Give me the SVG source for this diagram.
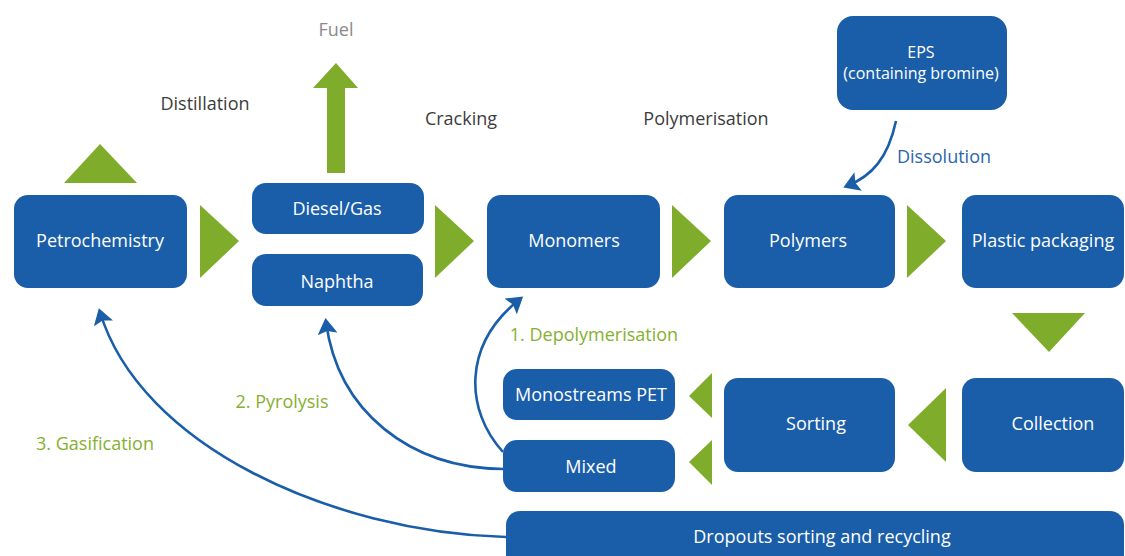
<svg xmlns="http://www.w3.org/2000/svg" width="1125" height="556" viewBox="0 0 1125 556">
<defs>
<style>
.box{fill:#1a5ea9;}
.bt{fill:#ffffff;font-family:"Open Sans","Liberation Sans",sans-serif;font-size:18px;text-anchor:middle;}
.tri{fill:#80ac2b;}
.lbl{fill:#3c3c3c;font-family:"Open Sans","Liberation Sans",sans-serif;font-size:18px;text-anchor:middle;}
.glbl{fill:#86b030;font-family:"Open Sans","Liberation Sans",sans-serif;font-size:18px;text-anchor:middle;}
.blbl{fill:#2a66ad;font-family:"Open Sans","Liberation Sans",sans-serif;font-size:18px;text-anchor:middle;}
.curve{fill:none;stroke:#1a5ea9;stroke-width:2.6;marker-end:url(#ah);}
</style>
<marker id="ah" markerUnits="userSpaceOnUse" markerWidth="16" markerHeight="20" refX="12" refY="10" orient="auto" viewBox="0 0 16 20">
<path d="M0,0 L16,10 L0,20 L3,10 z" fill="#1a5ea9"/>
</marker>
</defs>
<rect width="1125" height="556" fill="#ffffff"/>

<g id="connectors">
<polygon class="tri" points="64,183 137,183 100,144"/>
<polygon class="tri" points="200,205 239,241 200,278"/>
<polygon class="tri" points="313,88 358,88 336,63"/>
<rect class="tri" x="327" y="87" width="18" height="86"/>
<polygon class="tri" points="435,205 474,241 435,278"/>
<polygon class="tri" points="672,205 711,241 672,278"/>
<polygon class="tri" points="907,205 946,241 907,278"/>
<polygon class="tri" points="1012,313 1085,313 1049,352"/>
<polygon class="tri" points="946,388 946,462 908,425"/>
<polygon class="tri" points="712,373 712,418 689,396"/>
<polygon class="tri" points="712,440 712,485 689,462"/>
<path class="curve" d="M896,121 C888,158 872,176 847,186"/>
<path class="curve" d="M503,452 C465,410 462,345 520,299"/>
<path class="curve" d="M503,469 C410,468 338,412 326,322"/>
<path class="curve" d="M506,537 C330,532 140,445 100,312"/>
</g>

<g id="labels">
<text class="lbl" x="336" y="36" style="fill:#8a8a8a">Fuel</text>
<text class="lbl" x="205" y="110">Distillation</text>
<text class="lbl" x="461" y="125">Cracking</text>
<text class="lbl" x="706" y="125">Polymerisation</text>
<text class="blbl" x="944" y="163">Dissolution</text>
<text class="glbl" x="594" y="341">1. Depolymerisation</text>
<text class="glbl" x="282" y="408">2. Pyrolysis</text>
<text class="glbl" x="95" y="450">3. Gasification</text>
</g>

<g id="petrochemistry"><rect class="box" x="14" y="195" width="173" height="93" rx="14"/><text class="bt" x="100" y="247">Petrochemistry</text></g>
<g id="diesel"><rect class="box" x="252" y="183" width="172" height="51" rx="14"/><text class="bt" x="337" y="215">Diesel/Gas</text></g>
<g id="naphtha"><rect class="box" x="252" y="254" width="171" height="52" rx="14"/><text class="bt" x="337" y="288">Naphtha</text></g>
<g id="monomers"><rect class="box" x="487" y="195" width="173" height="93" rx="14"/><text class="bt" x="574" y="247">Monomers</text></g>
<g id="polymers"><rect class="box" x="724" y="195" width="171" height="93" rx="14"/><text class="bt" x="808" y="247">Polymers</text></g>
<g id="plastic"><rect class="box" x="962" y="195" width="162" height="93" rx="14"/><text class="bt" x="1043" y="247">Plastic packaging</text></g>
<g id="eps"><rect class="box" x="837" y="16" width="170" height="94" rx="16"/><text class="bt" x="921" y="58" style="font-size:16px">EPS</text><text class="bt" x="921" y="79" style="font-size:16px">(containing bromine)</text></g>
<g id="collection"><rect class="box" x="962" y="378" width="162" height="94" rx="14"/><text class="bt" x="1053" y="430">Collection</text></g>
<g id="sorting"><rect class="box" x="724" y="378" width="171" height="94" rx="14"/><text class="bt" x="816" y="430">Sorting</text></g>
<g id="monostreams"><rect class="box" x="503" y="369" width="172" height="51" rx="14"/><text class="bt" x="591" y="401">Monostreams PET</text></g>
<g id="mixed"><rect class="box" x="503" y="440" width="172" height="52" rx="14"/><text class="bt" x="591" y="473">Mixed</text></g>
<g id="dropouts"><rect class="box" x="506" y="511" width="618" height="70" rx="14"/><text class="bt" x="822" y="543">Dropouts sorting and recycling</text></g>
</svg>
